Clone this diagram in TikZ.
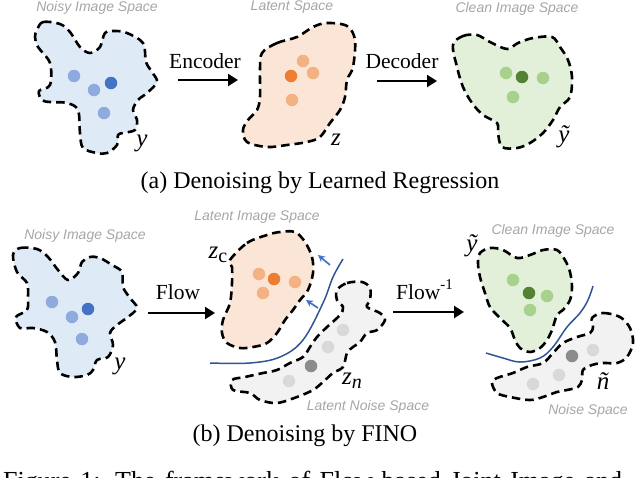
\documentclass[tikz,border=0pt]{standalone}
\usepackage{fontspec}
\setmainfont{Liberation Serif}
\newfontfamily\lsans{Liberation Sans}
\usetikzlibrary{arrows.meta}
\definecolor{bfill}{HTML}{DEEBF7}
\definecolor{blight}{HTML}{8FAADC}
\definecolor{bdark}{HTML}{4472C4}
\definecolor{ofill}{HTML}{FBE5D6}
\definecolor{olight}{HTML}{F4B183}
\definecolor{odark}{HTML}{ED7D31}
\definecolor{gfill}{HTML}{E2F0D9}
\definecolor{glight}{HTML}{A9D18E}
\definecolor{gdark}{HTML}{548235}
\definecolor{nfill}{HTML}{F2F2F2}
\definecolor{nlight}{HTML}{D9D9D9}
\definecolor{ndark}{HTML}{8C8C8C}
\definecolor{labgray}{HTML}{A6A6A6}
\definecolor{sepblue}{HTML}{2F5597}
\definecolor{arrblue}{HTML}{4472C4}
\tikzset{
 blob/.style={draw=black, line width=2.6pt, dash pattern=on 8.5pt off 5pt, line join=round},
 dot/.style={circle, inner sep=0pt, minimum size=12.5pt},
 spacelabel/.style={font=\lsans\itshape\fontsize{14}{14}\selectfont, text=labgray, inner sep=0pt},
 arrlabel/.style={font=\fontsize{21.5}{24}\selectfont, inner sep=0pt, anchor=base},
 varlabel/.style={font=\fontsize{25}{25}\selectfont\itshape, inner sep=0pt},
 mainarrow/.style={line width=2.2pt, -{Triangle[length=10pt,width=12pt]}},
 sepline/.style={draw=sepblue, line width=1.5pt},
 pusharrow/.style={draw=arrblue, line width=1.7pt, -{Stealth[length=7pt,width=7pt]}},
 captext/.style={font=\fontsize{24}{26}\selectfont, inner sep=0pt, anchor=base}
}
\begin{document}
\begin{tikzpicture}[x=1pt,y=-1pt]
\useasboundingbox (0,0) rectangle (640,477);
\clip (0,0) rectangle (640,477);
% ---------- (a) ----------
\draw[blob, fill=bfill] plot[smooth cycle, tension=0.55] coordinates {(37,30) (43,22) (60,24) (70,32) (80,47) (90,53) (100,47) (105,33) (115,31) (127,33) (143,43) (146,62) (152,72) (157,82) (147,93) (138,100) (133,110) (137,120) (135,130) (123,133) (118,135) (117,145) (107,153) (97,153) (83,148) (80,133) (78,110) (67,103) (50,102) (42,100) (39,91) (50,85) (50,63) (38,47) (35,37)};
\node[dot, fill=blight] (a1) at (74,76) {};
\node[dot, fill=blight] (a2) at (94,90) {};
\node[dot, fill=bdark] (a3) at (111,83) {};
\node[dot, fill=blight] (a4) at (104,113) {};
\node[varlabel] (ya) at (142,143) {y};
\node[spacelabel] (la) at (97,8) {Noisy Image Space};

\draw[blob, fill=ofill] plot[smooth cycle, tension=0.55] coordinates {(262,53) (277,43) (297,37) (313,27) (327,23) (347,26) (355,40) (353,67) (347,80) (345,97) (340,110) (330,123) (320,137) (307,142) (287,145) (267,147) (247,142) (243,130) (248,120) (257,110) (260,97) (260,70)};
\node[dot, fill=olight] (b1) at (303,61) {};
\node[dot, fill=odark] (b2) at (291,76) {};
\node[dot, fill=olight] (b3) at (313,73) {};
\node[dot, fill=olight] (b4) at (292,100) {};
\node[varlabel] (za) at (336,140) {z};
\node[spacelabel] (lb) at (292,7) {Latent Space};

\draw[blob, fill=gfill] plot[smooth cycle, tension=0.55] coordinates {(453,45) (463,36) (477,35) (490,42) (507,49) (518,43) (533,38) (552,37) (560,47) (568,60) (572,77) (570,97) (560,107) (553,120) (543,133) (530,143) (517,148) (502,147) (498,133) (497,123) (483,115) (472,103) (463,87) (457,67)};
\node[dot, fill=glight] (c1) at (506,73) {};
\node[dot, fill=gdark] (c2) at (522,77) {};
\node[dot, fill=glight] (c3) at (543,78) {};
\node[dot, fill=glight] (c4) at (513,97) {};
\node[varlabel] (yta) at (564,137) {ỹ};
\node[spacelabel] (lc) at (517,9) {Clean Image Space};

\coordinate (encS) at (178,80);
\coordinate (encE) at (238,80);
\draw[mainarrow] (encS) -- (encE);
\node[arrlabel] (enc) at (205,68) {Encoder};
\coordinate (decS) at (377,81);
\coordinate (decE) at (437,81);
\draw[mainarrow] (decS) -- (decE);
\node[arrlabel] (dec) at (402,68) {Decoder};

\node[captext] (capa) at (320,188) {(a) Denoising by Learned Regression};

% ---------- (b) ----------
\draw[blob, fill=bfill] plot[smooth cycle, tension=0.55] coordinates {(13,255) (20,248) (37,249) (48,257) (58,270) (68,280) (78,273) (82,262) (90,257) (100,258) (112,265) (122,272) (123,287) (130,298) (137,308) (128,317) (117,325) (110,333) (113,345) (108,357) (97,360) (93,370) (87,375) (73,377) (60,373) (57,360) (55,342) (47,332) (33,328) (20,328) (16,317) (27,310) (28,297) (27,283) (17,272)};
\node[dot, fill=blight] (d1) at (52,302) {};
\node[dot, fill=blight] (d2) at (72,317) {};
\node[dot, fill=bdark] (d3) at (88,309) {};
\node[dot, fill=blight] (d4) at (82,339) {};
\node[varlabel] (yb) at (120,366) {y};
\node[spacelabel] (ld) at (85,236) {Noisy Image Space};

\draw[blob, fill=ofill] plot[smooth cycle, tension=0.55] coordinates {(230,260) (247,243) (267,235) (280,232) (295,232) (305,242) (312,257) (313,273) (308,290) (300,300) (293,310) (285,320) (277,333) (267,343) (253,347) (240,348) (227,343) (222,333) (223,320) (230,303) (232,283) (232,267)};
\node[dot, fill=olight] (e1) at (259,274) {};
\node[dot, fill=odark] (e2) at (274,279) {};
\node[dot, fill=olight] (e3) at (295,282) {};
\node[dot, fill=olight] (e4) at (263,293) {};
\node[varlabel, anchor=base] (zc) at (218,258) {z\raisebox{-4pt}{\upshape\fontsize{20}{20}\selectfont c}};
\node[spacelabel] (le) at (257,217) {Latent Image Space};

\draw[blob, fill=nfill] plot[smooth cycle, tension=0.55] coordinates {(337,290) (347,283) (362,282) (370,288) (370,300) (367,307) (380,313) (385,320) (377,330) (367,333) (360,342) (353,347) (347,353) (343,367) (333,373) (323,382) (313,390) (297,397) (277,403) (260,400) (250,393) (233,390) (232,380) (245,377) (263,373) (277,370) (290,363) (303,357) (310,347) (317,337) (327,327) (340,315) (343,307) (337,300)};
\node[dot, fill=nlight] (f1) at (343,330) {};
\node[dot, fill=nlight] (f2) at (328,347) {};
\node[dot, fill=ndark] (f3) at (311,366) {};
\node[dot, fill=nlight] (f4) at (289,381) {};
\node[varlabel, anchor=base] (zn) at (352,384) {z\raisebox{-4pt}{\fontsize{20}{20}\selectfont n}};
\node[spacelabel] (lf) at (368,407) {Latent Noise Space};

\draw[sepline] plot[smooth, tension=0.6] coordinates {(210,363) (250,363) (280,357) (303,340) (323,303) (333,277) (343,259)};
\coordinate (p1s) at (330,265);
\coordinate (p1e) at (318,255);
\draw[pusharrow] (p1s) -- (p1e);
\coordinate (p2s) at (318,308);
\coordinate (p2e) at (306,300);
\draw[pusharrow] (p2s) -- (p2e);

\draw[blob, fill=gfill] plot[smooth cycle, tension=0.55] coordinates {(480,253) (490,248) (503,250) (517,258) (530,255) (543,250) (557,250) (565,260) (570,272) (572,287) (570,300) (563,310) (557,315) (552,330) (547,340) (540,348) (530,352) (520,348) (515,340) (510,328) (500,318) (490,307) (485,293) (480,277) (478,263)};
\node[dot, fill=glight] (g1) at (513,280) {};
\node[dot, fill=gdark] (g2) at (529,293) {};
\node[dot, fill=glight] (g3) at (547,296) {};
\node[dot, fill=glight] (g4) at (530,310) {};
\node[varlabel] (ytb) at (472,246) {ỹ};
\node[spacelabel] (lg) at (553,231) {Clean Image Space};

\draw[blob, fill=nfill] plot[smooth cycle, tension=0.55] coordinates {(592,318) (603,313) (620,317) (630,328) (633,343) (627,357) (617,363) (603,363) (592,365) (583,370) (582,380) (578,387) (567,390) (557,392) (543,397) (530,400) (510,397) (497,393) (492,383) (497,378) (513,373) (527,367) (543,363) (553,353) (563,343) (577,337) (590,333) (593,327)};
\node[dot, fill=nlight] (h1) at (593,350) {};
\node[dot, fill=ndark] (h2) at (572,356) {};
\node[dot, fill=nlight] (h3) at (559,375) {};
\node[dot, fill=nlight] (h4) at (533,384) {};
\node[varlabel] (nt) at (603,381) {ñ};
\node[spacelabel] (lh) at (588,411) {Noise Space};

\draw[sepline] plot[smooth, tension=0.6] coordinates {(486,353) (503,358) (520,362) (540,358) (553,347) (567,327) (580,313) (588,300) (593,286)};

\coordinate (flS) at (148,313);
\coordinate (flE) at (215,313);
\draw[mainarrow] (flS) -- (flE);
\node[arrlabel] (fl) at (178,299) {Flow};
\coordinate (fiS) at (393,312);
\coordinate (fiE) at (464,312);
\draw[mainarrow] (fiS) -- (fiE);
\node[arrlabel, anchor=base west] (fi) at (396,299) {Flow\raisebox{10pt}{\fontsize{15}{15}\selectfont -1}};

\node[captext] (capb) at (305,441) {(b) Denoising by FINO};
\node[font=\fontsize{26}{28}\selectfont, inner sep=0pt, anchor=base west] (fig) at (3,489.5) {\makebox[619pt][s]{Figure 1: The framework of Flow-based Joint Image and}};
\end{tikzpicture}
\end{document}
